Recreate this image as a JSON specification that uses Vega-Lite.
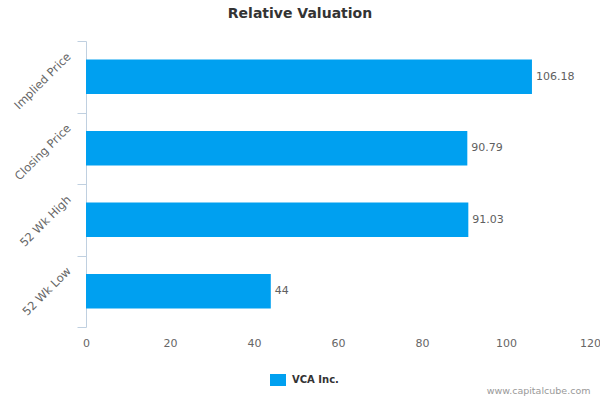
{
  "$schema": "https://vega.github.io/schema/vega-lite/v6.json",
  "width": 504,
  "height": 286,
  "autosize": {"type": "none"},
  "padding": {"left": 86, "top": 41, "right": 10, "bottom": 73},
  "background": "white",
  "title": {
    "text": "Relative Valuation",
    "font": "DejaVu Sans",
    "fontSize": 14,
    "fontWeight": "bold",
    "color": "#333333",
    "anchor": "middle",
    "dx": -38,
    "offset": 16
  },
  "data": {
    "values": [
      {"category": "Implied Price", "value": 106.18, "series": "VCA Inc."},
      {"category": "Closing Price", "value": 90.79, "series": "VCA Inc."},
      {"category": "52 Wk High", "value": 91.03, "series": "VCA Inc."},
      {"category": "52 Wk Low", "value": 44, "series": "VCA Inc."}
    ]
  },
  "encoding": {
    "y": {
      "field": "category",
      "type": "nominal",
      "sort": null,
      "scale": {"paddingInner": 0, "paddingOuter": 0},
      "axis": {
        "title": null,
        "grid": false,
        "ticks": true,
        "tickBand": "extent",
        "domainColor": "#C0D0E0",
        "tickColor": "#C0D0E0",
        "tickSize": 9,
        "tickWidth": 1,
        "labelAngle": -45,
        "labelAlign": "right",
        "labelBaseline": "middle",
        "labelPadding": 8,
        "labelOffset": -22,
        "labelOverlap": false,
        "labelColor": "#666666",
        "labelFont": "DejaVu Sans",
        "labelFontSize": 11.5
      }
    },
    "x": {
      "field": "value",
      "type": "quantitative",
      "scale": {"domain": [0, 120], "nice": false},
      "axis": {
        "values": [0, 20, 40, 60, 80, 100, 120],
        "grid": false,
        "domain": false,
        "ticks": false,
        "tickSize": 0,
        "labelPadding": 10,
        "labelColor": "#666666",
        "labelFont": "DejaVu Sans",
        "labelFontSize": 11,
        "labelFlush": false,
        "title": "www.capitalcube.com",
        "titleFont": "DejaVu Sans",
        "titleFontSize": 9.5,
        "titleFontWeight": "normal",
        "titleColor": "#999999",
        "titleAnchor": "end",
        "titleAlign": "right",
        "titleBaseline": "alphabetic",
        "titleX": 504,
        "titleY": 66
      }
    }
  },
  "layer": [
    {
      "mark": {"type": "bar", "height": {"band": 0.48}},
      "encoding": {
        "color": {
          "field": "series",
          "type": "nominal",
          "scale": {"range": ["#00A0F0"]},
          "legend": {
            "title": null,
            "orient": "none",
            "legendX": 184,
            "legendY": 331,
            "symbolType": "M-1,-0.75H1V0.75H-1Z",
            "symbolSize": 256,
            "symbolStrokeWidth": 0,
            "labelFont": "DejaVu Sans",
            "labelFontSize": 10,
            "labelFontWeight": "bold",
            "labelColor": "#333333",
            "labelOffset": 6
          }
        }
      }
    },
    {
      "mark": {
        "type": "text",
        "align": "left",
        "baseline": "middle",
        "dx": 4,
        "font": "DejaVu Sans",
        "fontSize": 11,
        "color": "#606060"
      },
      "encoding": {
        "text": {"field": "value", "type": "quantitative", "format": ""}
      }
    }
  ],
  "config": {"view": {"stroke": null}}
}
